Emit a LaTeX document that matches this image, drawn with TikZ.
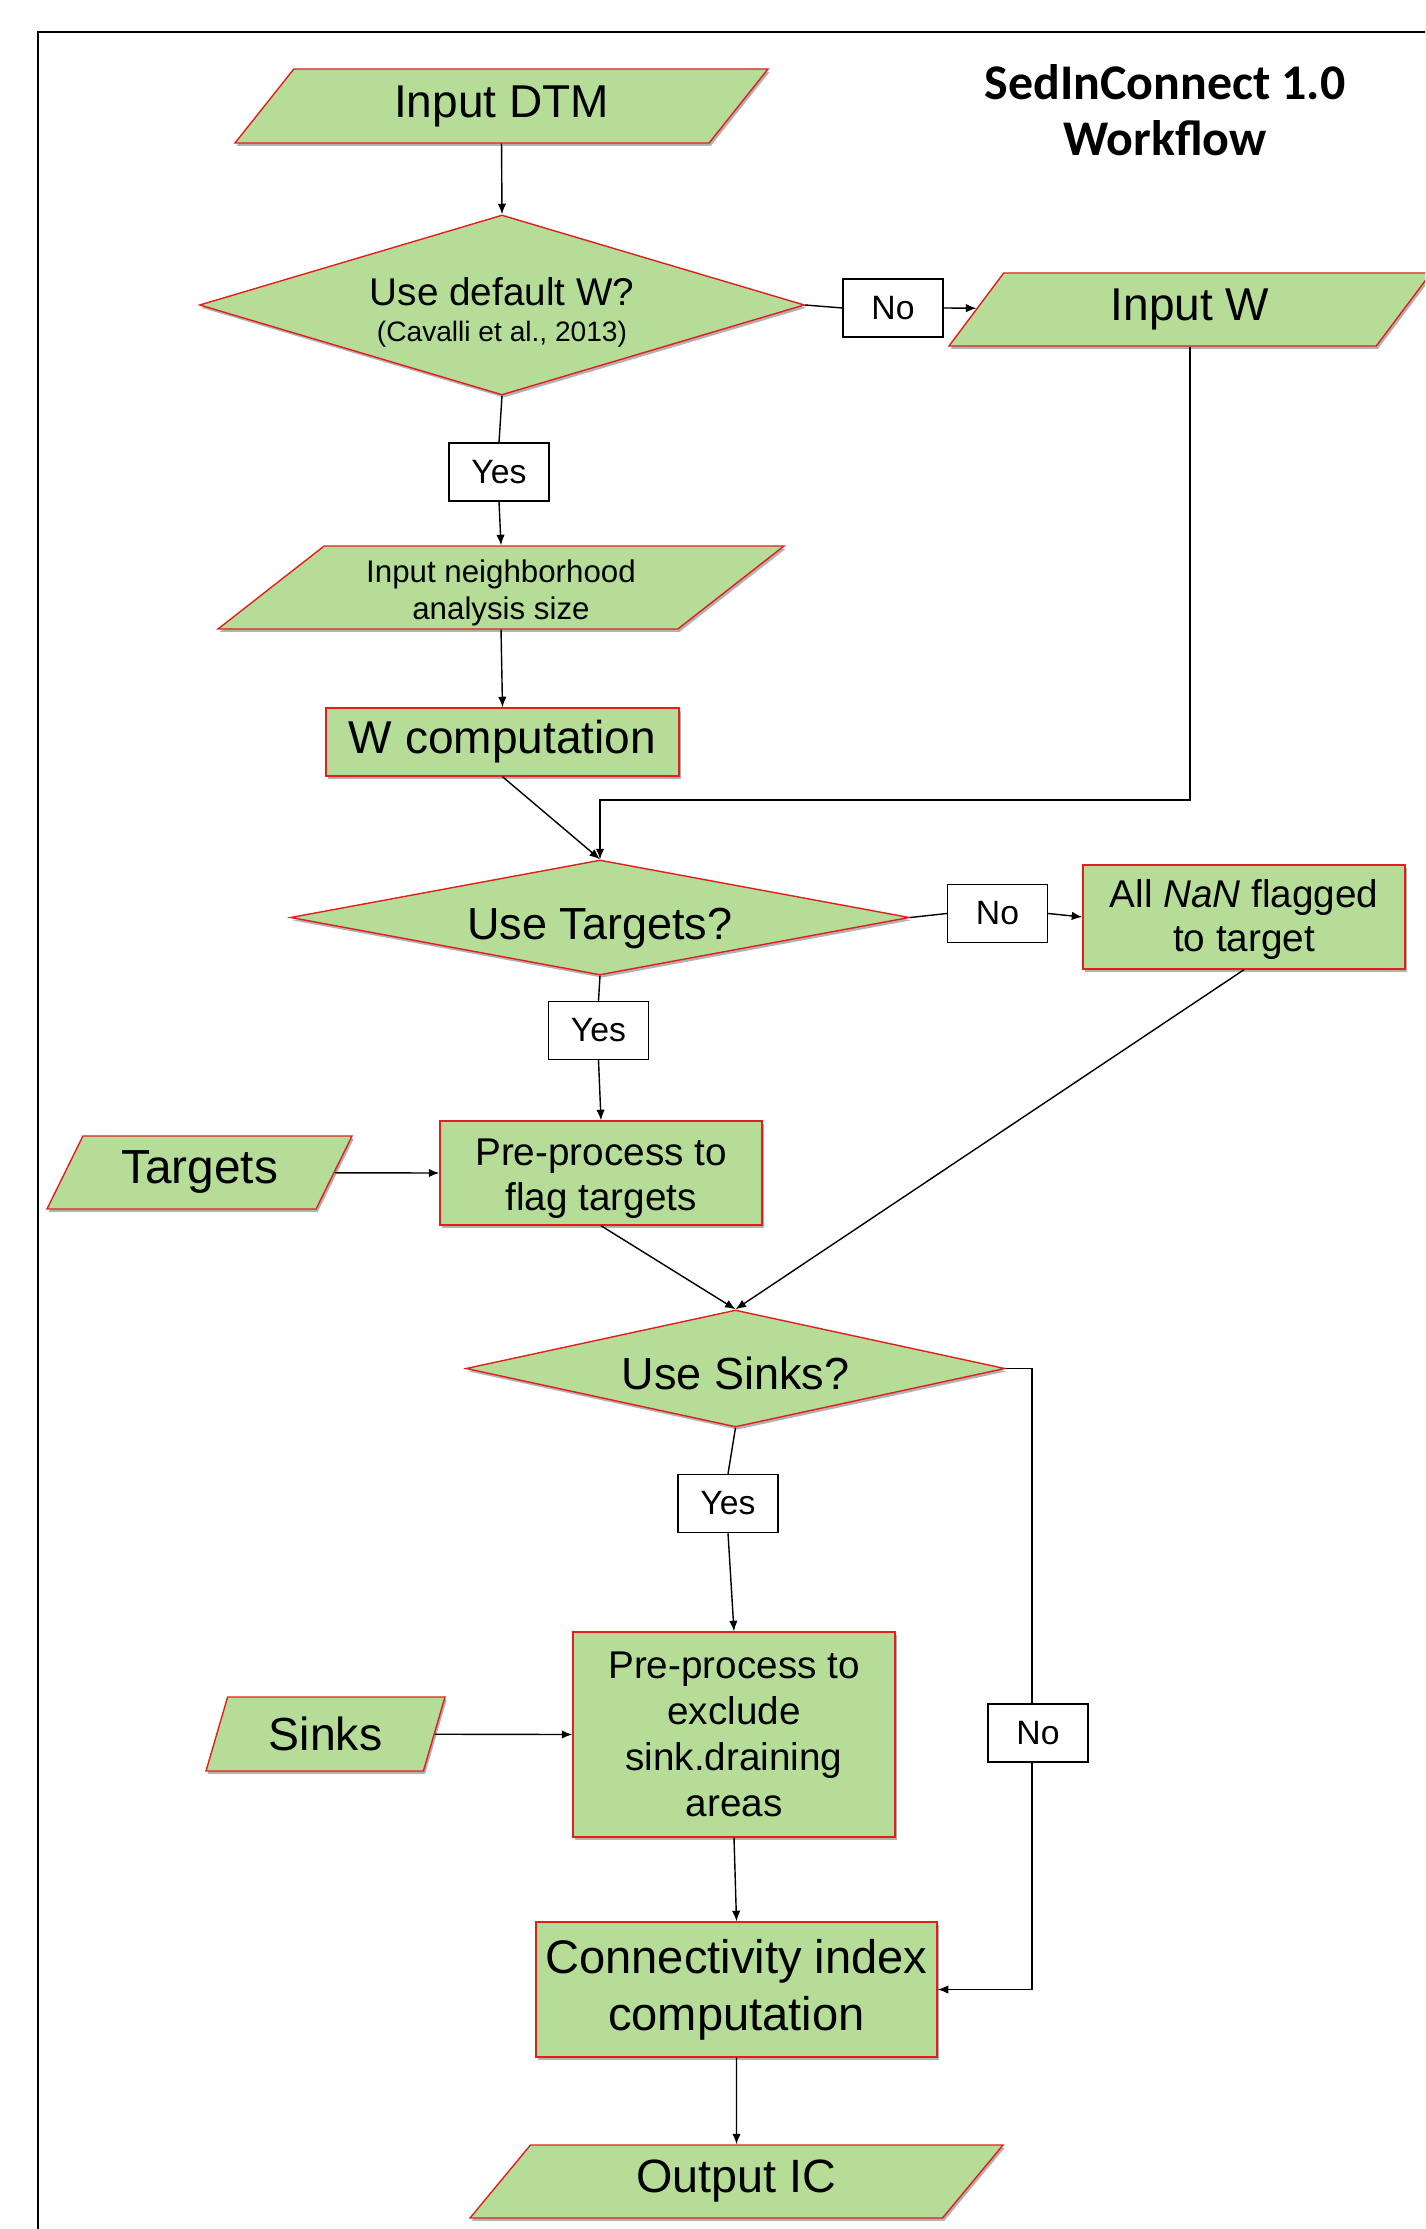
\documentclass[tikz,border=0pt]{standalone}
\usepackage{fontspec}
\setmainfont{Liberation Sans}
\newfontfamily\titlefont{Carlito}
\usetikzlibrary{shapes.geometric, arrows.meta, shadows, calc}
\definecolor{boxgreen}{RGB}{181,221,151}
\definecolor{boxred}{RGB}{228,30,30}
\newcommand{\txtlift}[1]{\rule{0pt}{#1}}

\begin{document}
\begin{tikzpicture}

% TikZ styles
\tikzset{
  boxshadow/.style={drop shadow={shadow xshift=0.5pt, shadow yshift=-0.8pt, opacity=0.3, fill=black}},
  datain/.style={trapezium, trapezium stretches body, draw=boxred, fill=boxgreen, line width=0.4pt, inner sep=0pt, align=center, boxshadow},
  decision/.style={diamond, draw=boxred, fill=boxgreen, line width=0.4pt, inner sep=0pt, align=center, boxshadow},
  process/.style={rectangle, draw=boxred, fill=boxgreen, line width=0.4pt, inner sep=0pt, align=center, boxshadow},
  answer/.style={rectangle, draw=black, fill=white, line width=0.4pt, minimum width=1cm, minimum height=0.58cm, font=\fontsize{9.6}{11}\selectfont},
  arrow/.style={-{Latex[length=3pt,width=2.4pt]}, line width=0.4pt},
  link/.style={line width=0.4pt}
}

\clip (0,0) rectangle (14.25,-22.29);
\draw[line width=0.6pt] (0.38,-0.32) rectangle (14.8,-22.8);

%==========================
% Title
%==========================
\node[font=\titlefont\bfseries\fontsize{14.2}{16}\selectfont, align=center] (title) at (11.65,-1.10) {SedInConnect 1.0\\Workflow};

%==========================
% Weights
%==========================
\node[datain, trapezium left angle=35, trapezium right angle=145, minimum width=5.33cm, minimum height=0.74cm, font=\fontsize{13.1}{15}\selectfont] (indtm) at (5.015,-1.06) {Input DTM};

\node[decision, aspect=3.36, minimum width=6.05cm, minimum height=1.80cm, font=\fontsize{11}{12.6}\selectfont] (usew) at (5.02,-3.05) {\txtlift{12.3pt}Use default W?\\[-2.3pt]{\fontsize{8}{9}\selectfont (Cavalli et al., 2013)}};

\node[answer] (no1) at (8.93,-3.08) {No};

\node[datain, trapezium left angle=37, trapezium right angle=143, minimum width=4.82cm, minimum height=0.73cm, font=\fontsize{13.1}{15}\selectfont] (inw) at (11.90,-3.095) {Input W};

\node[answer] (yes1) at (4.99,-4.72) {Yes};

\node[datain, trapezium left angle=36, trapezium right angle=144, minimum width=5.66cm, minimum height=0.83cm, font=\fontsize{8.9}{10.5}\selectfont] (inngh) at (5.01,-5.875) {\txtlift{9.6pt}Input neighborhood\\analysis size};

\node[process, minimum width=3.53cm, minimum height=0.68cm, font=\fontsize{13.1}{15}\selectfont] (wcomp) at (5.025,-7.42) {W computation};

%==========================
% Targets
%==========================
\node[decision, aspect=5.38, minimum width=6.19cm, minimum height=1.15cm, font=\fontsize{12.8}{14}\selectfont] (usetg) at (6.00,-9.175) {\txtlift{15pt}Use Targets?};

\node[answer] (no2) at (9.975,-9.135) {No};

\node[process, minimum width=3.22cm, minimum height=1.04cm, font=\fontsize{11}{12.4}\selectfont] (allnan) at (12.44,-9.17) {\txtlift{9.4pt}All \textit{NaN} flagged\\to target};

\node[answer] (yes2) at (5.985,-10.305) {Yes};

\node[datain, trapezium left angle=50, trapezium right angle=130, minimum width=3.05cm, minimum height=0.73cm, font=\fontsize{13.6}{15}\selectfont] (targets) at (1.995,-11.725) {Targets};

\node[process, minimum width=3.22cm, minimum height=1.04cm, font=\fontsize{11}{12.8}\selectfont] (preflag) at (6.01,-11.73) {\txtlift{10.6pt}Pre-process to\\flag targets};

%==========================
% Sinks
%==========================
\node[decision, aspect=4.6, minimum width=5.39cm, minimum height=1.17cm, font=\fontsize{12.8}{15}\selectfont] (usesk) at (7.355,-13.685) {\txtlift{11.8pt}Use Sinks?};

\node[answer] (yes3) at (7.28,-15.035) {Yes};

\node[datain, trapezium left angle=57.6, trapezium right angle=122.4, minimum width=2.39cm, minimum height=0.74cm, font=\fontsize{13.2}{15}\selectfont] (sinks) at (3.255,-17.34) {Sinks};

\node[process, minimum width=3.22cm, minimum height=2.05cm, font=\fontsize{11}{13.1}\selectfont] (prexcl) at (7.34,-17.345) {Pre-process to\\exclude\\sink.draining\\areas};

\node[answer] (no3) at (10.38,-17.33) {No};

\node[process, minimum width=4.01cm, minimum height=1.35cm, font=\fontsize{13.4}{16.2}\selectfont] (conn) at (7.365,-19.895) {Connectivity index\\computation};

\node[datain, trapezium left angle=35, trapezium right angle=145, minimum width=5.33cm, minimum height=0.73cm, font=\fontsize{13.3}{15}\selectfont] (outic) at (7.365,-21.815) {Output IC};

\coordinate (wjoin) at (6.00,-8.00);
\coordinate (skturn) at (10.32,-13.685);

% Pfeile
\draw[arrow] (indtm.south) -- (usew.north);
\draw[link] (usew.east) -- (no1.west);
\draw[arrow] (no1.east) -- (inw);
\draw[link] (usew.south) -- (yes1.north);
\draw[arrow] (yes1.south) -- (inngh.north);
\draw[arrow] (inngh.south) -- (wcomp.north);
\draw[arrow] (inw.south) |- (wjoin) -- (usetg.north);
\draw[arrow] (wcomp.south) -- (usetg.north);

\draw[link] (usetg.east) -- (no2.west);
\draw[arrow] (no2.east) -- (allnan.west);
\draw[link] (usetg.south) -- (yes2.north);
\draw[arrow] (yes2.south) -- (preflag.north);
\draw[arrow] (targets) -- (preflag.west);
\draw[arrow] (preflag.south) -- (usesk.north);
\draw[arrow] (allnan.south) -- (usesk.north);

\draw[link] (usesk.south) -- (yes3.north);
\draw[arrow] (yes3.south) -- (prexcl.north);
\draw[arrow] (sinks) -- (prexcl.west);
\draw[arrow] (prexcl.south) -- (conn.north);
\draw[link] (usesk.east) -- (skturn) -- (skturn |- no3.north);
\draw[arrow] (skturn |- no3.south) |- (conn.east);
\draw[arrow] (conn.south) -- (outic.north);
\end{tikzpicture}
\end{document}
